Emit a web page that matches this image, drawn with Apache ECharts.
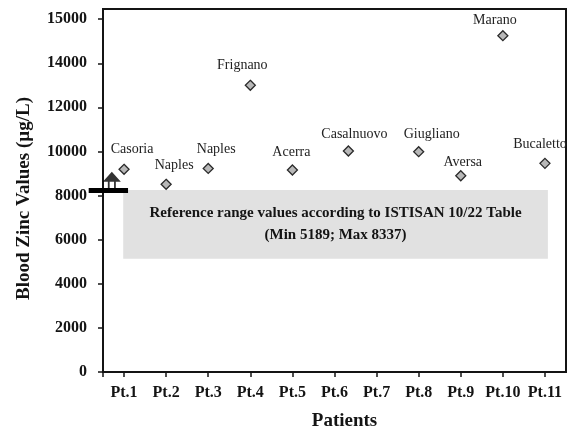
<!DOCTYPE html>
<html>
<head>
<meta charset="utf-8">
<script src="https://cdn.jsdelivr.net/npm/echarts@6/dist/echarts.min.js"></script>
<style>html,body{margin:0;padding:0;background:#fff}#c{width:582px;height:432px}</style>
</head>
<body>
<div id="c"></div>
<script>
// ---- data ----
const categories = ['Pt.1','Pt.2','Pt.3','Pt.4','Pt.5','Pt.6','Pt.7','Pt.8','Pt.9','Pt.10','Pt.11'];
const categoryPositions = [1,2,3,4,5,6,7,8,9,10,11];
const sites = ['Casoria','Naples','Naples','Frignano','Acerra','Casalnuovo','Giugliano','Aversa','Marano','Bucaletto'];
const sitePositions = [1,2,3,4,5,6.33,8,9,10,11];
const zincValues = [9190, 8510, 9230, 13000, 9160, 10020, 9990, 8900, 15250, 9460];
const yTickValues = [0,2000,4000,6000,8000,10000,12000,14000,16000];
const yTickLabels = ['0','2000','4000','6000','8000','10000','12000','14000','15000'];
const refRange = [5140, 8250];          // grey band as drawn
const refSpan = [0.98, 11.07];          // band extent along patient axis
const refText = ['Reference range values according to ISTISAN 10/22 Table', '(Min 5189; Max 8337)'];
const barLevel = [8230];                // black "max" bar
const barSpan = [0.16, 1.095];
const arrowPoint = [0.71, 8700];

// ---- styles ----
const labelShift = [[8,-2],[8,-1],[8,-1],[-8,-2],[-1,0],[6,1],[13,0],[2,4],[-8,2],[-5,-1]];
const serif = '"Liberation Serif","Times New Roman",serif';
const ink = '#141414';

const chart = echarts.init(document.getElementById('c'));
const pts = sites.map((s, i) => ({
  name: s,
  value: [sitePositions[i], zincValues[i]],
  label: { offset: labelShift[i] }
}));

chart.setOption({
  animation: false,
  backgroundColor: '#fff',
  grid: { left: 103, right: 16, top: 9, bottom: 60, outerBoundsMode: 'none', containLabel: false,
          show: true, borderColor: ink, borderWidth: 2, backgroundColor: 'transparent' },
  xAxis: {
    type: 'value', min: 0.5, max: 11.5,
    name: 'Patients', nameLocation: 'middle', nameGap: 40,
    nameTextStyle: { fontFamily: serif, fontWeight: 'bold', fontSize: 19, color: ink, padding: [0,0,0,20] },
    splitLine: { show: false },
    axisLine: { show: true, onZero: false, lineStyle: { color: ink, width: 2 } },
    axisTick: { show: true, length: 5, lineStyle: { color: ink, width: 1.5 }, customValues: [0.5].concat(categoryPositions) },
    axisLabel: {
      customValues: categoryPositions, margin: 13,
      fontFamily: serif, fontWeight: 'bold', fontSize: 16, color: ink,
      formatter: v => categories[categoryPositions.indexOf(v)]
    }
  },
  yAxis: {
    type: 'value', min: 0, max: 16460,
    name: 'Blood Zinc Values (µg/L)', nameLocation: 'middle', nameGap: 69,
    nameTextStyle: { fontFamily: serif, fontWeight: 'bold', fontSize: 19, color: ink, padding: [0,16,0,0] },
    splitLine: { show: false },
    axisLine: { show: true, onZero: false, lineStyle: { color: ink, width: 2 } },
    axisTick: { show: true, length: 5, lineStyle: { color: ink, width: 1.5 }, customValues: yTickValues },
    axisLabel: {
      customValues: yTickValues, margin: 16,
      fontFamily: serif, fontWeight: 'bold', fontSize: 16, color: ink,
      formatter: v => yTickLabels[yTickValues.indexOf(v)]
    }
  },
  series: [
    {
      type: 'scatter',
      z: 5,
      symbol: 'diamond',
      symbolSize: 10,
      itemStyle: { color: '#b8b8b8', borderColor: '#2a2a2a', borderWidth: 1.3, opacity: 1 },
      label: {
        show: true, position: 'top', distance: 5,
        formatter: p => p.name,
        fontFamily: serif, fontSize: 14, color: '#222'
      },
      data: pts,
      markArea: {
        silent: true,
        itemStyle: { color: '#e1e1e1', opacity: 1 },
        label: {
          show: true, position: 'inside',
          formatter: refText.join('\n'),
          fontFamily: serif, fontWeight: 'bold', fontSize: 15, lineHeight: 22, color: ink, align: 'center',
          padding: [6, 0, 0, 0]
        },
        data: [[ { coord: [refSpan[0], refRange[0]] }, { coord: [refSpan[1], refRange[1]] } ]]
      }
    },
    {
      type: 'custom',
      clip: false,
      z: 6,
      silent: true,
      data: [[barSpan[0], barSpan[1], barLevel[0]]],
      renderItem: function (params, api) {
        const p0 = api.coord([api.value(0), api.value(2)]);
        const p1 = api.coord([api.value(1), api.value(2)]);
        return { type: 'rect', shape: { x: p0[0], y: p0[1] - 2.5, width: p1[0] - p0[0], height: 5 }, style: { fill: '#000' } };
      }
    },
    {
      type: 'scatter',
      clip: false,
      z: 6,
      silent: true,
      symbol: 'path://M9 0 L18 10 L0 10 Z M5 10 L6.8 10 L6.8 17 L5 17 Z M11.2 10 L13 10 L13 17 L11.2 17 Z',
      symbolSize: [18, 17],
      symbolKeepAspect: false,
      itemStyle: { color: '#000' },
      data: [arrowPoint]
    }
  ]
});
</script>
</body>
</html>
